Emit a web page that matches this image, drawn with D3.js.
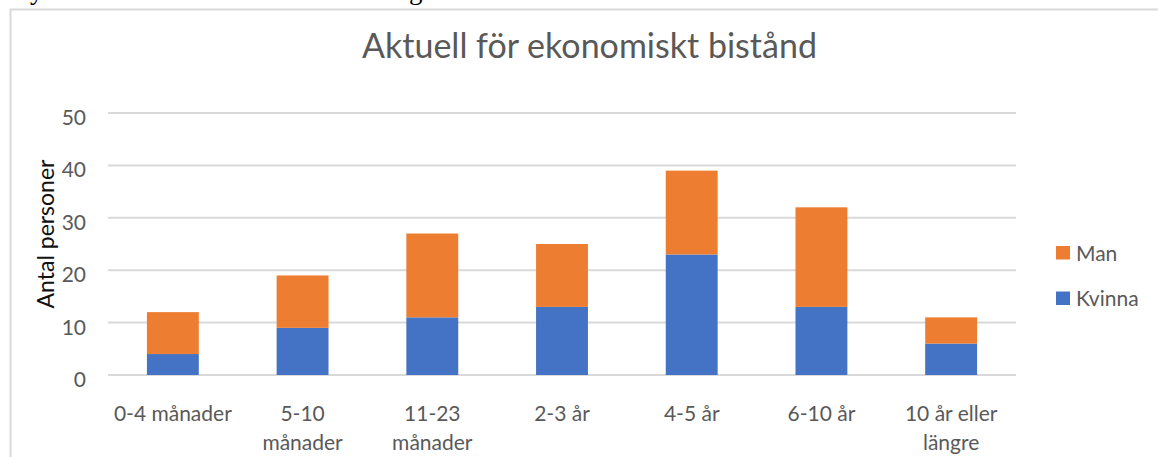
<!DOCTYPE html>
<html>
<head>
<meta charset="utf-8">
<script src="https://cdn.jsdelivr.net/npm/d3@7"></script>
<style>
	html, body { margin:0; padding:0; background:#fff; }
	svg { display:block; }
</style>
</head>
<body>
<svg id="chart"></svg>
<script>
var categories = ["0-4 månader", "5-10 månader", "11-23 månader", "2-3 år", "4-5 år", "6-10 år", "10 år eller längre"];
var seriesNames = ["Kvinna", "Man"];
var kvinnaValues = [4, 9, 11, 13, 23, 13, 6];
var manValues = [8, 10, 16, 12, 16, 19, 5];
var yTicks = [0, 10, 20, 30, 40, 50];
var seriesColors = ["#4472c4", "#ed7d31"];

(function(){
	var svgWidth = 1158,
		svgHeight = 457,
		plotLeft = 108,
		plotRight = 1016,
		plotTop = 113,
		plotBottom = 375,
		labelFont = "Lato, 'Open Sans', sans-serif",
		textGray = "#595959";

	var svg = d3.select("#chart")
		.attr("width", svgWidth)
		.attr("height", svgHeight);

	// 문서 윗줄 글자 꼬리 (잘린 부분)
	svg.append("text")
		.attr("x", 30).attr("y", -1)
		.style("font-family", "'Liberation Serif', serif")
		.style("font-size", "27px")
		.style("fill", "#000")
		.text("y");
	svg.append("text")
		.attr("x", 409).attr("y", -1)
		.style("font-family", "'Liberation Serif', serif")
		.style("font-size", "27px")
		.style("fill", "#000")
		.text("g");

	// 차트 테두리
	svg.append("rect")
		.attr("x", 10.5).attr("y", 9.5)
		.attr("width", 1300).attr("height", 600)
		.style("fill", "none")
		.style("stroke", "#d9d9d9")
		.style("stroke-width", "2px");

	// 데이터 테이블
	var table = categories.map(function(c, i){
		return {cat: c, Kvinna: kvinnaValues[i], Man: manValues[i]};
	});
	var stacked = d3.stack().keys(seriesNames)(table);

	var xScale = d3.scaleBand()
		.domain(categories)
		.range([plotLeft, plotRight])
		.paddingInner(0.6)
		.paddingOuter(0.3);

	var yScale = d3.scaleLinear()
		.domain([0, d3.max(yTicks)])
		.range([plotBottom, plotTop]);

	var colorScale = d3.scaleOrdinal()
		.domain(seriesNames)
		.range(seriesColors);

	// 가로 그리드
	svg.append("g")
		.attr("class", "grid")
		.selectAll("line")
		.data(yTicks)
	  .enter().append("line")
		.attr("x1", plotLeft)
		.attr("x2", plotRight)
		.attr("y1", function(d){ return yScale(d); })
		.attr("y2", function(d){ return yScale(d); })
		.style("stroke", "#d9d9d9")
		.style("stroke-width", "2px");

	// y축 라벨
	var yAxis = d3.axisLeft(yScale)
		.tickValues(yTicks)
		.tickSize(0)
		.tickPadding(0)
		.tickFormat(d3.format("d"));
	var yAxisG = svg.append("g")
		.attr("transform", "translate(86,0)")
		.call(yAxis);
	yAxisG.select(".domain").remove();
	yAxisG.selectAll("text")
		.attr("dy", "0.55em")
		.style("font-family", labelFont)
		.style("font-size", "21px")
		.style("fill", textGray);

	// 막대
	svg.append("g")
		.selectAll("g")
		.data(stacked)
	  .enter().append("g")
		.style("fill", function(d){ return colorScale(d.key); })
		.selectAll("rect")
		.data(function(d){ return d; })
	  .enter().append("rect")
		.attr("x", function(d){ return xScale(d.data.cat); })
		.attr("width", xScale.bandwidth())
		.attr("y", function(d){ return yScale(d[1]); })
		.attr("height", function(d){ return yScale(d[0]) - yScale(d[1]); });

	// x축 라벨
	var xAxis = d3.axisBottom(xScale).tickSize(0).tickPadding(0);
	var xAxisG = svg.append("g")
		.attr("transform", "translate(0," + 421 + ")")
		.call(xAxis);
	xAxisG.select(".domain").remove();
	xAxisG.selectAll("text")
		.attr("y", 0)
		.attr("dy", 0)
		.style("font-family", labelFont)
		.style("font-size", "21px")
		.style("fill", textGray)
		.each(function(){ wrapLabel(d3.select(this), 124); });

	function wrapLabel(text, maxWidth){
		var words = text.text().split(" "),
			lines = [],
			line = [];
		text.text(null);
		var probe = text.append("tspan").attr("x", 0);
		words.forEach(function(w){
			line.push(w);
			probe.text(line.join(" "));
			if(probe.node().getComputedTextLength() > maxWidth && line.length > 1){
				line.pop();
				lines.push(line.join(" "));
				line = [w];
			}
		});
		lines.push(line.join(" "));
		probe.remove();
		lines.forEach(function(l, i){
			text.append("tspan")
				.attr("x", 0)
				.attr("dy", i === 0 ? 0 : 29)
				.text(l);
		});
	}

	// 제목
	svg.append("text")
		.attr("x", 589.5)
		.attr("y", 58)
		.attr("text-anchor", "middle")
		.style("font-family", labelFont)
		.style("font-size", "34px")
		.style("fill", textGray)
		.text("Aktuell för ekonomiskt bistånd");

	// y축 제목
	svg.append("text")
		.attr("transform", "translate(54,234) rotate(-90)")
		.attr("text-anchor", "middle")
		.style("font-family", labelFont)
		.style("font-size", "23px")
		.style("fill", "#111")
		.text("Antal personer");

	// 범례
	var legendItems = seriesNames.slice().reverse();
	var legend = svg.append("g")
		.attr("transform", "translate(1056,246)");
	var item = legend.selectAll("g")
		.data(legendItems)
	  .enter().append("g")
		.attr("transform", function(d, i){ return "translate(0," + (i * 45.5) + ")"; });
	item.append("rect")
		.attr("width", 14)
		.attr("height", 13.5)
		.style("fill", function(d){ return colorScale(d); });
	item.append("text")
		.attr("x", 20)
		.attr("y", 7)
		.attr("dy", "0.36em")
		.style("font-family", labelFont)
		.style("font-size", "21px")
		.style("fill", textGray)
		.text(function(d){ return d; });
})();
</script>
</body>
</html>
